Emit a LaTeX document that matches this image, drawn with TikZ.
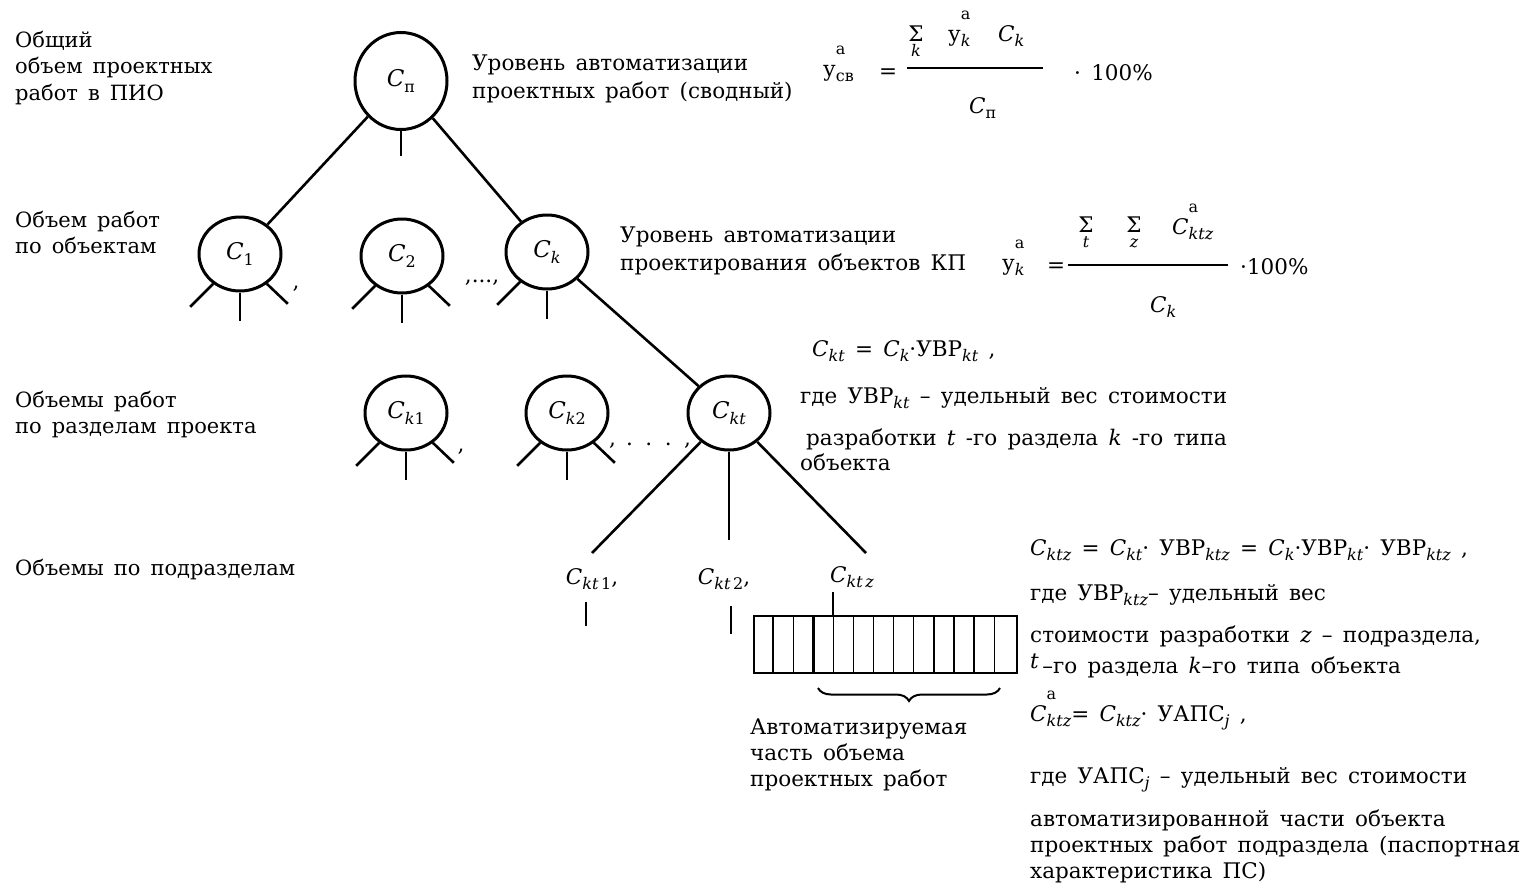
\documentclass[tikz,border=0pt]{standalone}
\usepackage{fontspec}
\setmainfont{DejaVu Serif}[WordSpace={1.5}]
\usetikzlibrary{shapes.geometric,decorations.pathreplacing}
\newcommand\Lo[1]{\raisebox{-0.45ex}{\fontsize{16}{16}\selectfont #1}}
\newcommand\HL[2]{\makebox[0pt][l]{\raisebox{1.9ex}{\fontsize{16}{16}\selectfont #1}}\raisebox{-0.45ex}{\fontsize{16}{16}\selectfont #2}}
\newcommand\Ci{\textit{C}}
\newcommand\Sm[1]{\begin{tabular}[t]{@{}c@{}}Σ\\[-0.45em]\fontsize{16}{16}\selectfont\itshape #1\end{tabular}}
\begin{document}
\begin{tikzpicture}[x=1pt,y=-1pt,
  big/.style={font=\fontsize{21.5}{25}\selectfont},
  lft/.style={font=\fontsize{21}{25}\selectfont},
  txt/.style={anchor=base west, inner sep=0pt},
  ctr/.style={anchor=base, inner sep=0pt},
  circ/.style={ellipse, draw, line width=3pt, minimum width=82pt, minimum height=74pt, inner sep=0pt, font=\fontsize{23}{26}\selectfont},
  topcirc/.style={circ, minimum width=92pt, minimum height=97pt},
  edge/.style={line width=2.6pt},
  tick/.style={line width=2pt},
  cell/.style={line width=1.3pt}]
\useasboundingbox (0,0) rectangle (1529,886);

% ---- left labels
\node[txt,lft] (l1a) at (15,47) {Общий};
\node[txt,lft] (l1b) at (15,73) {объем проектных};
\node[txt,lft] (l1c) at (15,100) {работ в ПИО};
\node[txt,lft] (l2a) at (15,227) {Объем работ};
\node[txt,lft] (l2b) at (15,253) {по объектам};
\node[txt,lft] (l3a) at (15,407) {Объемы работ};
\node[txt,lft] (l3b) at (15,433) {по разделам проекта};
\node[txt,lft] (l4a) at (15,575) {Объемы по подразделам};

% ---- circles
\node[topcirc] (cp) at (401,81) {\Ci\Lo{п}};
\node[circ] (c1) at (240,254) {\Ci\Lo{1}};
\node[circ] (c2) at (402,256) {\Ci\Lo{2}};
\node[circ] (ck) at (547,252) {\Ci\Lo{\textit{k}}};
\node[circ] (ck1) at (406,413) {\Ci\Lo{\textit{k}1}};
\node[circ] (ck2) at (567,413) {\Ci\Lo{\textit{k}2}};
\node[circ] (ckt) at (729,413) {\Ci\Lo{\textit{kt}}};

% ---- connectors
\draw[edge] (cp) -- (c1);
\draw[edge] (cp) -- (ck);
\draw[edge] (ck) -- (ckt);
\draw[edge] (cp.south) -- ++(0,25);
\foreach \n in {c1,c2,ck1,ck2}{
  \draw[edge] (\n.-132) -- ++(-23,23);
  \draw[edge] (\n.south) -- ++(0,28);
  \draw[edge] (\n.-48) -- ++(21,20);
}
\draw[edge] (ck.-132) -- ++(-23,23);
\draw[edge] (ck.south) -- ++(0,28);

% commas
\node[ctr,big] (cm1) at (296,288) {,};
\node[ctr,big] (cm2) at (482,282) {,...,};
\node[ctr,big] (cm3) at (461,451) {,};
\node[ctr,big] (cm4) at (650,445) {, . . . ,};

% ---- level 4
\coordinate (e1) at (592,553);
\coordinate (e2) at (729,540);
\coordinate (e3) at (866,553);
\draw[edge] (ckt) -- (e1);
\draw[edge] (ckt.south) -- (e2);
\draw[edge] (ckt) -- (e3);
\node[ctr,big] (kt1) at (592,584) {\Ci\Lo{\textit{kt}\,1},};
\node[ctr,big] (kt2) at (724,584) {\Ci\Lo{\textit{kt}\,2},};
\node[ctr,big] (ktz) at (852,582) {\Ci\Lo{\textit{kt}\,\textit{z}}};
\draw[tick] (586,602) -- (586,626);
\draw[tick] (731,606) -- (731,634);
\draw[tick] (833,592) -- (833,615);

% ---- box of cells
\node[draw, line width=1.6pt, minimum width=263pt, minimum height=57pt, anchor=north west, inner sep=0pt] (box) at (753,615) {};
\foreach \i in {1,2,4,5,6,7,8,9,10,11,12}
  \draw[cell] ({753+\i*20.1},615) -- ++(0,57);
\draw[line width=2.8pt] ({753+3*20.1},615) -- ++(0,57);
\draw[line width=2pt, decorate, decoration={brace, amplitude=13pt}] (1000,688) -- (818,688);
\node[txt,big] (au1) at (750,734) {Автоматизируемая};
\node[txt,big] (au2) at (750,760) {часть объема};
\node[txt,big] (au3) at (750,786) {проектных работ};

% ---- formula 1
\node[txt,big] (t1a) at (472,70) {Уровень автоматизации};
\node[txt,big] (t1b) at (472,98) {проектных работ (сводный)};
\node[txt,big] (f1l) at (823,76) {у\HL{а}{св}};
\node[txt,big] (f1e) at (879,78) {=};
\node[ctr,big] (f1s) at (916,41) {\Sm{k}};
\node[txt,big] (f1y) at (948,41) {у\HL{а}{\textit{k}}};
\node[txt,big] (f1c) at (998,41) {\Ci\Lo{\textit{k}}};
\draw[line width=1.4pt] (907,68) -- (1043,68);
\node[txt,big] (f1d) at (969,113) {\Ci\Lo{п}};
\node[txt,big] (f1r) at (1074,80) {· 100\%};

% ---- formula 2
\node[txt,big] (t2a) at (620,242) {Уровень автоматизации};
\node[txt,big] (t2b) at (620,270) {проектирования объектов КП};
\node[txt,big] (f2l) at (1002,270) {у\HL{а}{\textit{k}}};
\node[txt,big] (f2e) at (1047,272) {=};
\node[ctr,big] (f2s1) at (1086,232) {\Sm{t}};
\node[ctr,big] (f2s2) at (1134,232) {\Sm{z}};
\node[txt,big] (f2c) at (1172,234) {\Ci\HL{а}{\textit{ktz}}};
\draw[line width=1.4pt] (1068,265) -- (1228,265);
\node[txt,big] (f2d) at (1150,312) {\Ci\Lo{\textit{k}}};
\node[txt,big] (f2r) at (1240,274) {·100\%};

% ---- right notes
\node[txt,big] (n1) at (812,356) {\Ci\Lo{\textit{kt}} = \Ci\Lo{\textit{k}}·УВР\Lo{\textit{kt}} ,};
\node[txt,big] (n2) at (800,403) {где УВР\Lo{\textit{kt}} – удельный вес стоимости};
\node[txt,big] (n3) at (806,445) {разработки \textit{t} -го раздела \textit{k} -го типа};
\node[txt,big] (n4) at (800,470) {объекта};
\node[txt,big] (n5) at (1030,555) {\Ci\Lo{\textit{ktz}} = \Ci\Lo{\textit{kt}}· УВР\Lo{\textit{ktz}} = \Ci\Lo{\textit{k}}·УВР\Lo{\textit{kt}}· УВР\Lo{\textit{ktz}} ,};
\node[txt,big] (n6) at (1030,600) {где УВР\Lo{\textit{ktz}}– удельный вес};
\node[txt,big] (n7) at (1030,642) {стоимости разработки \textit{z} – подраздела,};
\node[txt,big] (n8) at (1030,673) {\raisebox{0.4ex}{\textit{t}}\,–го раздела \textit{k}–го типа объекта};
\node[txt,big] (n9) at (1030,721) {\Ci\HL{а}{\textit{ktz}}= \Ci\Lo{\textit{ktz}}· УАПС\Lo{\textit{j}} ,};
\node[txt,big] (n10) at (1030,783) {где УАПС\Lo{\textit{j}} – удельный вес стоимости};
\node[txt,big] (n11) at (1030,826) {автоматизированной части объекта};
\node[txt,big] (n12) at (1030,852) {проектных работ подраздела (паспортная};
\node[txt,big] (n13) at (1030,878) {характеристика ПС)};
\end{tikzpicture}
\end{document}
